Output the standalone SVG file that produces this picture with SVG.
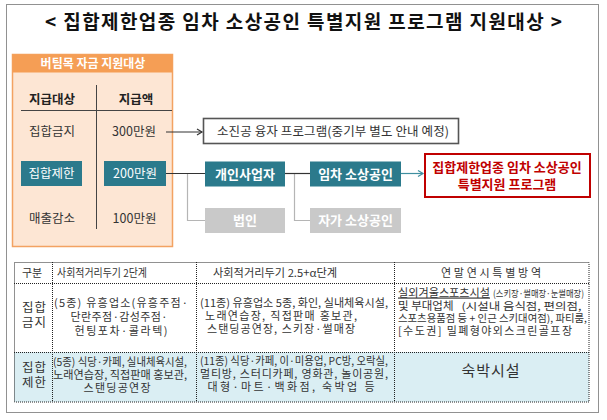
<svg xmlns="http://www.w3.org/2000/svg" width="607" height="420" viewBox="0 0 607 420">
<defs>
<style>
text{font-family:"Noto Sans CJK KR","Noto Sans",sans-serif;}
.dot{fill:none;stroke:#222;stroke-width:1;stroke-dasharray:1 1;}
.ln{fill:none;stroke:#333;stroke-width:1.2;}
.gl{fill:none;stroke:#b5b5b5;stroke-width:1.2;}
.teal{fill:#2b7a8c;}
.gray{fill:#c9c9c9;}
.wt{fill:#fff;font-size:13px;font-weight:bold;text-anchor:middle;}
.ot{fill:#333;font-size:12.5px;text-anchor:middle;}
.oh{fill:#222;font-size:12.5px;font-weight:bold;text-anchor:middle;}
.tt{fill:#333;font-size:11px;text-anchor:middle;}
.tl{fill:#333;font-size:11px;}
</style>
<marker id="arr" markerUnits="userSpaceOnUse" markerWidth="10" markerHeight="10" refX="6" refY="4" orient="auto">
<path d="M1,1 L6,4 L1,7" fill="none" stroke="#333" stroke-width="1.2"/>
</marker>
<marker id="arrT" markerUnits="userSpaceOnUse" markerWidth="10" markerHeight="10" refX="6" refY="4" orient="auto">
<path d="M1,1 L6,4 L1,7" fill="none" stroke="#3f8fa0" stroke-width="1.2"/>
</marker>
</defs>
<rect x="0" y="0" width="607" height="420" fill="#fff"/>
<rect class="dot" x="6.5" y="4.5" width="592" height="408"/>

<g id="title">
<text x="303.5" y="29" text-anchor="middle" font-size="19" font-weight="bold" fill="#111" textLength="517" lengthAdjust="spacing">&lt; 집합제한업종 임차 소상공인 특별지원 프로그램 지원대상 &gt;</text>
</g>

<g id="support-table">
<rect x="12.5" y="54.5" width="160" height="192" fill="#fde6d4" stroke="#f3a262" stroke-width="1.5"/>
<rect x="12.5" y="54.5" width="160" height="18" fill="#f59e55"/>
<text x="93" y="68" fill="#fff" font-size="12" font-weight="bold" text-anchor="middle">버팀목 자금 지원대상</text>
<line x1="21" y1="110.5" x2="172" y2="110.5" stroke="#444" stroke-width="1"/>
<line x1="96.5" y1="85" x2="96.5" y2="229" stroke="#444" stroke-width="1"/>
<text class="oh" x="52" y="103.5">지급대상</text>
<text class="oh" x="136" y="103.5">지급액</text>
<text class="ot" x="52" y="136">집합금지</text>
<text class="ot" x="134" y="136">300만원</text>
<text class="ot" x="52" y="222.5">매출감소</text>
<text class="ot" x="134.5" y="222.5">100만원</text>
</g>

<g id="node-jiphap-jehan">
<rect class="teal" x="21" y="161" width="61" height="25"/>
<text x="51.5" y="178" fill="#fff" font-size="12.5" text-anchor="middle">집합제한</text>
</g>
<g id="node-200">
<rect class="teal" x="104" y="161" width="62" height="25"/>
<text x="135" y="178" fill="#fff" font-size="12.5" text-anchor="middle">200만원</text>
</g>

<g id="connectors">
<line class="ln" x1="166" y1="132" x2="202" y2="132" marker-end="url(#arr)"/>
<polyline class="gl" points="187.5,174 187.5,220.5 205,220.5"/>
<polyline class="gl" points="294.5,174 294.5,220.5 310,220.5"/>
<line class="ln" x1="166" y1="173.5" x2="205" y2="173.5"/>
<line class="ln" x1="285" y1="173.5" x2="310" y2="173.5"/>
<line x1="401" y1="173.5" x2="423" y2="173.5" stroke="#3f8fa0" stroke-width="1.2" marker-end="url(#arrT)"/>
</g>

<g id="node-loan">
<rect x="203.5" y="118.5" width="255" height="25" fill="#fff" stroke="#555" stroke-width="1.6"/>
<text x="333" y="135.5" fill="#333" font-size="12.5" text-anchor="middle" textLength="232" lengthAdjust="spacing">소진공 융자 프로그램(중기부 별도 안내 예정)</text>
</g>

<g id="node-individual">
<rect class="teal" x="205" y="161.5" width="80" height="25"/>
<text class="wt" x="245" y="178.5">개인사업자</text>
</g>
<g id="node-corp">
<rect class="gray" x="205" y="208" width="80" height="25"/>
<text class="wt" x="245" y="225">법인</text>
</g>
<g id="node-tenant">
<rect class="teal" x="310" y="161.5" width="91" height="25"/>
<text class="wt" x="355.5" y="178.5">임차 소상공인</text>
</g>
<g id="node-owner">
<rect class="gray" x="310" y="208" width="91" height="25"/>
<text class="wt" x="355.5" y="225">자가 소상공인</text>
</g>
<g id="node-program">
<rect x="425" y="154" width="165" height="43" fill="#fff" stroke="#c00000" stroke-width="2"/>
<text fill="#c00000" font-size="13" font-weight="bold" text-anchor="middle"><tspan x="507" y="172">집합제한업종 임차 소상공인</tspan><tspan x="507" y="189">특별지원 프로그램</tspan></text>
</g>

<g id="table">
<rect x="14" y="352" width="575" height="50" fill="#daeef3"/>
<rect class="dot" x="14.5" y="262.5" width="574.5" height="139.5"/>
<line class="dot" x1="14" y1="283.5" x2="589" y2="283.5"/>
<line class="dot" x1="14" y1="352.5" x2="589" y2="352.5"/>
<line class="dot" x1="52.5" y1="262" x2="52.5" y2="402"/>
<line class="dot" x1="196.5" y1="262" x2="196.5" y2="402"/>
<line class="dot" x1="394.5" y1="262" x2="394.5" y2="402"/>

<text class="tt" x="32" y="277" font-size="11.5">구분</text>
<text class="tl" x="57" y="277" font-size="10.5" textLength="90" lengthAdjust="spacingAndGlyphs">사회적거리두기 2단계</text>
<text class="tt" x="275" y="277" textLength="124" lengthAdjust="spacingAndGlyphs">사회적거리두기 2.5+α단계</text>
<text class="tt" x="491" y="277" textLength="100" lengthAdjust="spacing">연말연시특별방역</text>

<text fill="#333" font-size="12.5" text-anchor="middle" letter-spacing="1"><tspan x="34.5" y="312">집합</tspan><tspan x="34.5" y="327">금지</tspan></text>
<text class="tt"><tspan x="121" y="307" textLength="134" lengthAdjust="spacing">(5종) 유흥업소(유흥주점·</tspan><tspan x="119" y="321" textLength="97" lengthAdjust="spacing">단란주점·감성주점·</tspan><tspan x="121" y="334.5" textLength="93" lengthAdjust="spacing">헌팅포차·콜라텍)</tspan></text>

<text class="tt"><tspan x="294" y="306.5" textLength="188" lengthAdjust="spacingAndGlyphs">(11종) 유흥업소 5종, 화인, 실내체육시설,</tspan><tspan x="281" y="319.5" textLength="152" lengthAdjust="spacing">노래연습장, 직접판매 홍보관,</tspan><tspan x="281" y="332.5" textLength="148" lengthAdjust="spacing">스탠딩공연장, 스키장·썰매장</tspan></text>

<text fill="#333" font-size="11.5"><tspan x="398" y="296.5" text-decoration="underline" textLength="92" lengthAdjust="spacingAndGlyphs">실외겨울스포츠시설</tspan><tspan font-size="9.5" dx="3" textLength="91" lengthAdjust="spacingAndGlyphs">(스키장·썰매장·눈썰매장)</tspan><tspan x="398" y="309.5">및 부대업체</tspan><tspan font-size="10" dx="8" textLength="120" lengthAdjust="spacingAndGlyphs">(시설내 음식점, 편의점,</tspan><tspan x="398" y="322" font-size="10" textLength="189" lengthAdjust="spacingAndGlyphs">스포츠용품점 등 + 인근 스키대여점), 파티룸,</tspan><tspan x="398" y="335" font-size="11" textLength="174" lengthAdjust="spacing">[수도권] 밀폐형야외스크린골프장</tspan></text>

<text fill="#333" font-size="12.5" text-anchor="middle" letter-spacing="1"><tspan x="34.5" y="371.5">집합</tspan><tspan x="34.5" y="386.5">제한</tspan></text>
<text class="tt"><tspan x="120" y="366" textLength="134" lengthAdjust="spacingAndGlyphs">(5종) 식당·카페, 실내체육시설,</tspan><tspan x="120" y="379" textLength="134" lengthAdjust="spacingAndGlyphs">노래연습장, 직접판매 홍보관,</tspan><tspan x="117" y="392" textLength="67" lengthAdjust="spacing">스탠딩공연장</tspan></text>

<text class="tt"><tspan x="294" y="365" textLength="188" lengthAdjust="spacingAndGlyphs">(11종) 식당·카페, 이·미용업, PC방, 오락실,</tspan><tspan x="294" y="378" textLength="188" lengthAdjust="spacing">멀티방, 스터디카페, 영화관, 놀이공원,</tspan><tspan x="291" y="391" textLength="167" lengthAdjust="spacing">대형·마트·백화점, 숙박업  등</tspan></text>

<text x="491" y="376" fill="#333" font-size="15" text-anchor="middle" letter-spacing="1">숙박시설</text>
</g>
</svg>
